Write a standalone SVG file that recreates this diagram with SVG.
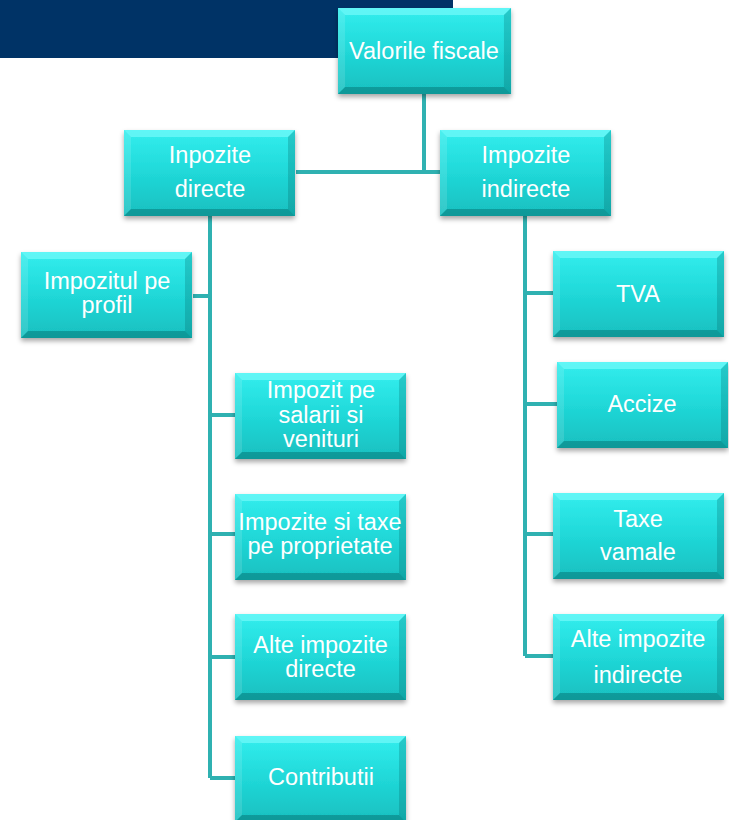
<svg xmlns="http://www.w3.org/2000/svg" xmlns:xlink="http://www.w3.org/1999/xlink" width="729" height="820" viewBox="0 0 729 820">
<style>
.t{font-family:"Liberation Sans",Arial,sans-serif;font-size:23.5px;fill:#ffffff;text-anchor:middle}
.c{stroke:#2fb1b1;stroke-width:4;fill:none}
</style>
<defs>
<linearGradient id="g" x1="0" y1="0" x2="0" y2="1">
<stop offset="0" stop-color="#33eeee"/>
<stop offset="0.5" stop-color="#20d8d8"/>
<stop offset="1" stop-color="#18bfbf"/>
</linearGradient>
<filter id="sh" x="-10%" y="-10%" width="120%" height="130%">
<feDropShadow dx="0" dy="3" stdDeviation="2.5" flood-color="#000" flood-opacity="0.35"/>
</filter>
<g id="box">
<rect x="0" y="0" width="171" height="86" fill="url(#g)" filter="url(#sh)"/>
<polygon points="0,0 171,0 164,7 7,7" fill="#7ffcfc" opacity="0.6"/>
<polygon points="0,0 7,7 7,79 0,86" fill="#ffffff" opacity="0.12"/>
<polygon points="171,0 171,86 164,79 164,7" fill="#006060" opacity="0.25"/>
<polygon points="0,86 7,79 164,79 171,86" fill="#005050" opacity="0.35"/>
</g>
</defs>
<rect x="0" y="0" width="453" height="58" fill="#003366"/>
<g id="connectors">
<path class="c" d="M424,94 V172 M296,172 H440"/>
<path class="c" d="M210,216 V778 M193,296 H210 M210,415 H235 M210,534 H235 M210,657 H235 M210,778 H235"/>
<path class="c" d="M525,216 V656 M525,293 H553 M525,404 H557 M525,534 H553 M525,656 H553"/>
</g>
<g id="n-valorile"><use xlink:href="#box" transform="translate(338,8) scale(1.012,1)"/><text class="t" x="424" y="59">Valorile fiscale</text></g>
<g id="n-directe"><use xlink:href="#box" x="124" y="130"/><text class="t" x="210" y="163">Inpozite</text><text class="t" x="210" y="197">directe</text></g>
<g id="n-indirecte"><use xlink:href="#box" x="440" y="130"/><text class="t" x="526" y="163">Impozite</text><text class="t" x="526" y="197">indirecte</text></g>
<g id="n-profil"><use xlink:href="#box" x="21" y="252"/><text class="t" x="107" y="289">Impozitul pe</text><text class="t" x="107" y="313">profil</text></g>
<g id="n-salarii"><use xlink:href="#box" x="235" y="373"/><text class="t" x="321" y="398">Impozit pe</text><text class="t" x="321" y="422.5">salarii si</text><text class="t" x="321" y="447">venituri</text></g>
<g id="n-proprietate"><use xlink:href="#box" x="235" y="494"/><text class="t" x="320" y="530">Impozite si taxe</text><text class="t" x="320" y="554">pe proprietate</text></g>
<g id="n-altedirecte"><use xlink:href="#box" x="235" y="614"/><text class="t" x="320.5" y="653">Alte impozite</text><text class="t" x="320.5" y="677">directe</text></g>
<g id="n-contributii"><use xlink:href="#box" x="235" y="736"/><text class="t" x="321" y="785">Contributii</text></g>
<g id="n-tva"><use xlink:href="#box" x="553" y="251"/><text class="t" x="638" y="302">TVA</text></g>
<g id="n-accize"><use xlink:href="#box" x="557" y="362"/><text class="t" x="642" y="412">Accize</text></g>
<g id="n-vamale"><use xlink:href="#box" x="553" y="493"/><text class="t" x="638" y="527">Taxe</text><text class="t" x="638" y="560">vamale</text></g>
<g id="n-alteindirecte"><use xlink:href="#box" x="553" y="614"/><text class="t" x="638" y="647">Alte impozite</text><text class="t" x="638" y="683">indirecte</text></g>
</svg>
